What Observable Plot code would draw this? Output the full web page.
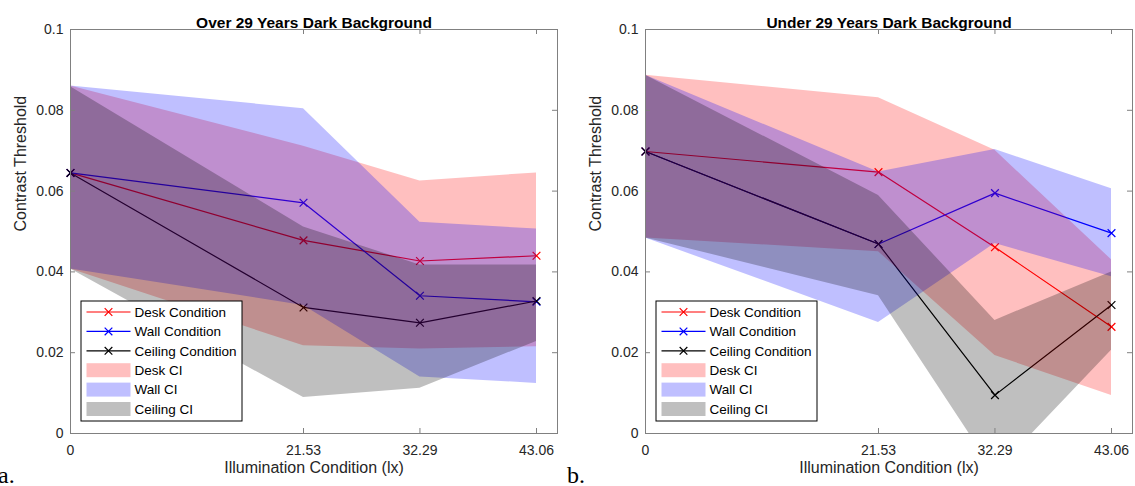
<!DOCTYPE html>
<html>
<head>
<meta charset="utf-8">
<script src="https://cdn.jsdelivr.net/npm/d3@7"></script>
<script src="https://cdn.jsdelivr.net/npm/@observablehq/plot@0.6"></script>
<style>
  html, body { margin: 0; padding: 0; background: #fff; }
  #wrap { position: relative; width: 1135px; height: 486px; display: flex; }
  svg text { font-family: "Liberation Sans", Arial, Helvetica, sans-serif; }
</style>
</head>
<body>
<div id="wrap"></div>
<script>
// ---------- data ----------
const lux = [0, 21.53, 32.29, 43.06];
const xTicks = [0, 21.53, 32.29, 43.06];
const yTicks = [0, 0.02, 0.04, 0.06, 0.08, 0.1];
const seriesNames = ["Desk Condition", "Wall Condition", "Ceiling Condition"];
const ciNames = ["Desk CI", "Wall CI", "Ceiling CI"];
const seriesColors = ["#ff0000", "#0000ff", "#000000"];

// Over 29 years
const overDesk    = [0.0645, 0.0478, 0.0427, 0.0440];
const overWall    = [0.0645, 0.0571, 0.0341, 0.0326];
const overCeiling = [0.0645, 0.0312, 0.0274, 0.0328];
const overDeskLo    = [0.0407, 0.0217, 0.0209, 0.0215];
const overDeskHi    = [0.0860, 0.0711, 0.0625, 0.0645];
const overWallLo    = [0.0407, 0.0317, 0.0140, 0.0124];
const overWallHi    = [0.0860, 0.0804, 0.0523, 0.0506];
const overCeilingLo = [0.0407, 0.0089, 0.0112, 0.0228];
const overCeilingHi = [0.0858, 0.0511, 0.0417, 0.0417];

// Under 29 years
const underDesk    = [0.0698, 0.0647, 0.0461, 0.0264];
const underWall    = [0.0698, 0.0469, 0.0595, 0.0496];
const underCeiling = [0.0698, 0.0469, 0.0095, 0.0318];
const underDeskLo    = [0.0484, 0.0450, 0.0193, 0.0094];
const underDeskHi    = [0.0887, 0.0831, 0.0701, 0.0430];
const underWallLo    = [0.0484, 0.0275, 0.0470, 0.0388];
const underWallHi    = [0.0887, 0.0647, 0.0703, 0.0606];
const underCeilingLo = [0.0484, 0.0341, -0.0097, 0.0206];
const underCeilingHi = [0.0887, 0.0589, 0.0280, 0.0400];

// ---------- drawing ----------
const H = 486, MT = 29, MB = 53;
const FONT = '"Liberation Sans", Arial, Helvetica, sans-serif';
const SERIF = '"Liberation Serif", "Times New Roman", serif';

function panel({title, tag, tagX, width, ml, mr, means, los, his}) {
  const plotW = width - ml - mr, plotH = H - MT - MB;
  const rows = means.map((m, s) => lux.map((x, i) => ({x, y: m[i], lo: los[s][i], hi: his[s][i]})));
  const marks = [];
  // lines + markers (drawn first, the CI patches sit over them)
  rows.forEach((r, s) => {
    marks.push(Plot.line(r, {x: "x", y: "y", stroke: seriesColors[s], strokeWidth: 1.2}));
    marks.push(Plot.dot(r, {x: "x", y: "y", symbol: "times", r: 3.6, stroke: seriesColors[s], strokeWidth: 1.2}));
  });
  rows.forEach((r, s) => {
    marks.push(Plot.areaY(r, {x: "x", y1: "lo", y2: "hi", fill: seriesColors[s], fillOpacity: 0.25, clip: true}));
  });
  marks.push(
    Plot.frame({stroke: "#808080", strokeWidth: 1}),
    Plot.tickX(xTicks, {x: d => d, insetTop: plotH - 5, stroke: "#808080"}),
    Plot.tickX(xTicks, {x: d => d, insetBottom: plotH - 5, stroke: "#808080"}),
    Plot.tickY(yTicks, {y: d => d, insetRight: plotW - 5, stroke: "#808080"}),
    Plot.tickY(yTicks, {y: d => d, insetLeft: plotW - 5, stroke: "#808080"}),
    Plot.axisX({ticks: xTicks, tickSize: 0, tickPadding: 12, tickFormat: d => String(d), label: null, fill: "#262626"}),
    Plot.axisY({ticks: yTicks, tickSize: 0, tickPadding: 7, tickFormat: d => String(d), label: null, fill: "#262626"}),
    Plot.text([title], {frameAnchor: "top", dy: -13, fontWeight: "bold", fontSize: 15.5, fill: "#000"}),
    Plot.text(["Illumination Condition (lx)"], {frameAnchor: "bottom", dy: 39, fontSize: 16, fill: "#262626"}),
    Plot.text(["Contrast Threshold"], {frameAnchor: "left", dx: -50, rotate: -90, fontSize: 16, fill: "#262626"})
  );
  const svg = Plot.plot({
    width, height: H,
    marginLeft: ml, marginRight: mr, marginTop: MT, marginBottom: MB,
    style: {fontSize: "14px", fontFamily: FONT, background: "#fff", overflow: "visible"},
    x: {domain: [0, 45], axis: null},
    y: {domain: [0, 0.1], axis: null},
    marks
  });
  // legend (built from the series names/colours)
  const g = d3.select(svg).append("g");
  const lx = ml + 11, ly = 301, lw = 161, lh = 120, step = 19.4;
  g.append("rect").attr("x", lx).attr("y", ly).attr("width", lw).attr("height", lh)
    .attr("fill", "#fff").attr("stroke", "#000").attr("stroke-width", 1);
  const items = seriesNames.map((n, i) => ({n, c: seriesColors[i], kind: "line"}))
    .concat(ciNames.map((n, i) => ({n, c: seriesColors[i], kind: "patch"})));
  items.forEach((it, i) => {
    const cy = ly + 11 + step * i;
    if (it.kind === "line") {
      g.append("line").attr("x1", lx + 5.5).attr("x2", lx + 49.5).attr("y1", cy).attr("y2", cy)
        .attr("stroke", it.c).attr("stroke-width", 1.2);
      g.append("path").attr("d", d3.symbol(d3.symbolTimes, 40)()).attr("transform", `translate(${lx + 27.5},${cy})`)
        .attr("stroke", it.c).attr("stroke-width", 1.2).attr("fill", "none");
    } else {
      g.append("rect").attr("x", lx + 5.5).attr("y", cy - 7).attr("width", 44).attr("height", 14)
        .attr("fill", it.c).attr("fill-opacity", 0.25);
    }
    g.append("text").attr("x", lx + 53.5).attr("y", cy).attr("dy", "0.35em")
      .attr("text-anchor", "start")
      .attr("font-size", 13.5).attr("fill", "#000").text(it.n);
  });
  // panel tag (a./b.)
  d3.select(svg).append("text").attr("x", tagX).attr("y", 483)
    .attr("text-anchor", "start").attr("font-size", 24)
    .attr("fill", "#000").style("font-family", SERIF).text(tag);
  return svg;
}

const wrap = document.getElementById("wrap");
wrap.appendChild(panel({
  title: "Over 29 Years Dark Background", tag: "a.", tagX: -2, width: 567, ml: 70, mr: 10,
  means: [overDesk, overWall, overCeiling],
  los: [overDeskLo, overWallLo, overCeilingLo],
  his: [overDeskHi, overWallHi, overCeilingHi]
}));
wrap.appendChild(panel({
  title: "Under 29 Years Dark Background", tag: "b.", tagX: 0, width: 568, ml: 78, mr: 3,
  means: [underDesk, underWall, underCeiling],
  los: [underDeskLo, underWallLo, underCeilingLo],
  his: [underDeskHi, underWallHi, underCeilingHi]
}));
</script>
</body>
</html>
